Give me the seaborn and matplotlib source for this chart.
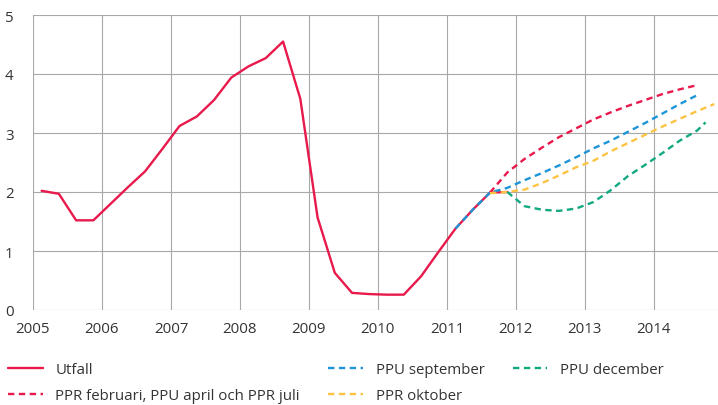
import numpy as np
import pandas as pd
import seaborn as sns
import matplotlib.pyplot as plt

# quarterly positions (mid-quarter)
utfall_x = [2005.125 + 0.25 * i for i in range(28)]
utfall = [2.02, 1.97, 1.52, 1.52,
          1.80, 2.08, 2.35, 2.73,
          3.12, 3.28, 3.56, 3.94,
          4.13, 4.27, 4.55, 3.58,
          1.57, 0.63, 0.29, 0.27,
          0.26, 0.26, 0.57, 0.98,
          1.38, 1.70, 1.99, 2.00]

feb_x = [2011.625 + 0.25 * i for i in range(13)]
feb = [1.99, 2.33, 2.56, 2.75, 2.93, 3.08, 3.23, 3.35, 3.46, 3.56, 3.66, 3.74, 3.81]

sep_x = [2011.125 + 0.25 * i for i in range(15)]
sep = [1.38, 1.70, 1.99, 2.07, 2.20, 2.32, 2.45, 2.59, 2.74, 2.87, 3.02, 3.17, 3.33, 3.49, 3.64]

okt_x = [2011.625 + 0.25 * i for i in range(14)]
okt = [1.98, 2.00, 2.04, 2.15, 2.28, 2.42, 2.53, 2.69, 2.83, 2.97, 3.11, 3.24, 3.37, 3.49]

dec_x = [2011.875 + 0.25 * i for i in range(12)] + [2014.75]
dec = [2.00, 1.76, 1.70, 1.68, 1.72, 1.83, 2.03, 2.27, 2.46, 2.66, 2.87, 3.04, 3.18]

names = ['Utfall', 'PPR februari, PPU april och PPR juli', 'PPU september',
         'PPR oktober', 'PPU december']
colors = ['#E8194B', '#E8194B', '#1E95D8', '#FDC443', '#12A980']

frames = []
for n, xs, ys in zip(names, [utfall_x, feb_x, sep_x, okt_x, dec_x],
                     [utfall, feb, sep, okt, dec]):
    frames.append(pd.DataFrame({'x': xs, 'y': ys, 'serie': n}))
df = pd.concat(frames, ignore_index=True)

sns.set_theme(style='white')
plt.rcParams['font.family'] = ['Open Sans', 'DejaVu Sans']
plt.rcParams['text.color'] = '#333333'

fig = plt.figure(figsize=(7.18, 4.06), dpi=100)
ax = fig.add_axes([33 / 718, 1 - 311 / 406, 1 - 33 / 718, 295 / 406])

dash = (2.7, 1.9)
sns.lineplot(data=df, x='x', y='y', hue='serie', style='serie',
             hue_order=names, style_order=names,
             palette=dict(zip(names, colors)),
             dashes={names[0]: '', names[1]: dash, names[2]: dash,
                     names[3]: dash, names[4]: dash},
             linewidth=1.7, sort=False, legend=False, ax=ax)

ax.set_xlim(2005, 2014.93)
ax.set_ylim(0, 5)
ax.set_xticks(range(2005, 2015))
ax.set_yticks(range(0, 6))
ax.grid(True, color='#A8A8A8', linewidth=0.8)
ax.set_axisbelow(True)
for s in ax.spines.values():
    s.set_visible(False)
ax.tick_params(axis='both', length=0, labelsize=10.8, colors='#333333')
ax.tick_params(axis='y', pad=14)
ax.tick_params(axis='x', pad=8)
ax.set_xlabel('')
ax.set_ylabel('')

handles = ax.get_lines()[:5]
fig.legend(handles, names,
           loc='upper left', bbox_to_anchor=(8 / 718, 1 - 363 / 406),
           ncol=3, frameon=False, fontsize=10.8, handlelength=2.3,
           handletextpad=0.85, columnspacing=1.9, labelspacing=0.75,
           borderpad=0, borderaxespad=0)

fig.savefig('out.png', dpi=100)
